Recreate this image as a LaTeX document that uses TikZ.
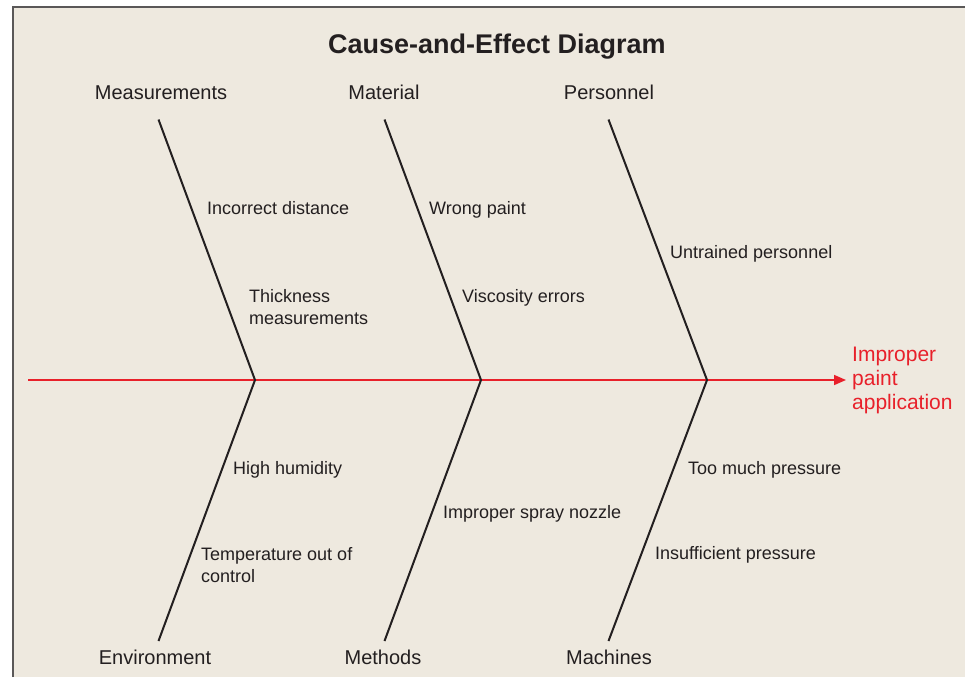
\documentclass[tikz,border=0pt]{standalone}
\usepackage{fontspec}
\setmainfont{Liberation Sans}
\usetikzlibrary{arrows.meta}

\definecolor{paper}{HTML}{EEE9DF}
\definecolor{frame}{HTML}{5A5858}
\definecolor{ink}{HTML}{231F20}
\definecolor{effectred}{HTML}{E8202A}

\tikzset{
  category/.style={inner sep=0pt, text=ink, font=\fontsize{20}{24}\selectfont},
  cause/.style={inner sep=0pt, anchor=west, align=left, text=ink,
                font=\fontsize{18}{22}\selectfont},
  onecause/.style={cause, anchor=base west},
  bone/.style={draw=ink, line width=2pt},
  spine/.style={draw=effectred, line width=1.6pt,
                -{Triangle[length=12pt,width=10pt]}},
  effect/.style={inner sep=0pt, anchor=west, align=left, text=effectred,
                 font=\fontsize{21}{24}\selectfont},
}

\begin{document}
\begin{tikzpicture}[x=1pt, y=-1pt]
  \useasboundingbox (0,0) rectangle (965,677);

  % background panel with frame on the left and top
  \fill[paper] (13,7) rectangle (965,677);
  \draw[frame, line width=2pt] (13,677) -- (13,7) -- (965,7);

  % title
  \node[inner sep=0pt, anchor=base, text=ink,
        font=\fontsize{27}{30}\selectfont\bfseries] (title) at (497,53)
        {Cause-and-Effect Diagram};

  % spine and effect
  \coordinate (tail) at (28,380);
  \coordinate (head) at (846,380);
  \coordinate (j1) at (255,380);
  \coordinate (j2) at (481,380);
  \coordinate (j3) at (707,380);
  \draw[spine] (tail) -- (head);
  \node[effect] (effect) at (852,380) {Improper\\paint\\application};

  % bone ends
  \coordinate (t1) at (158.5,119.5);
  \coordinate (t2) at (384.5,119.5);
  \coordinate (t3) at (608.5,119.5);
  \coordinate (b1) at (158.5,641);
  \coordinate (b2) at (384.5,641);
  \coordinate (b3) at (608.5,641);

  \draw[bone] (t1) -- (j1) -- (b1);
  \draw[bone] (t2) -- (j2) -- (b2);
  \draw[bone] (t3) -- (j3) -- (b3);

  % categories
  \node[category] (measurements) at (161,92.5) {Measurements};
  \node[category] (material) at (384,92) {Material};
  \node[category] (personnel) at (609,92) {Personnel};
  \node[category] (environment) at (155,657) {Environment};
  \node[category] (methods) at (383,657) {Methods};
  \node[category] (machines) at (609,657) {Machines};

  % causes (single lines sit on a baseline, two-line ones are centred)
  \node[onecause] (c1) at (207,214.5) {Incorrect distance};
  \node[cause] (c2) at (249,307) {Thickness\\measurements};
  \node[onecause] (c3) at (429,214.5) {Wrong paint};
  \node[onecause] (c4) at (462,302.5) {Viscosity errors};
  \node[onecause] (c5) at (670,258.5) {Untrained personnel};
  \node[onecause] (c6) at (233,474.5) {High humidity};
  \node[cause] (c7) at (201,565) {Temperature out of\\control};
  \node[onecause] (c8) at (443,518.5) {Improper spray nozzle};
  \node[onecause] (c9) at (688,474.5) {Too much pressure};
  \node[onecause] (c10) at (655,559.5) {Insufficient pressure};
\end{tikzpicture}
\end{document}
